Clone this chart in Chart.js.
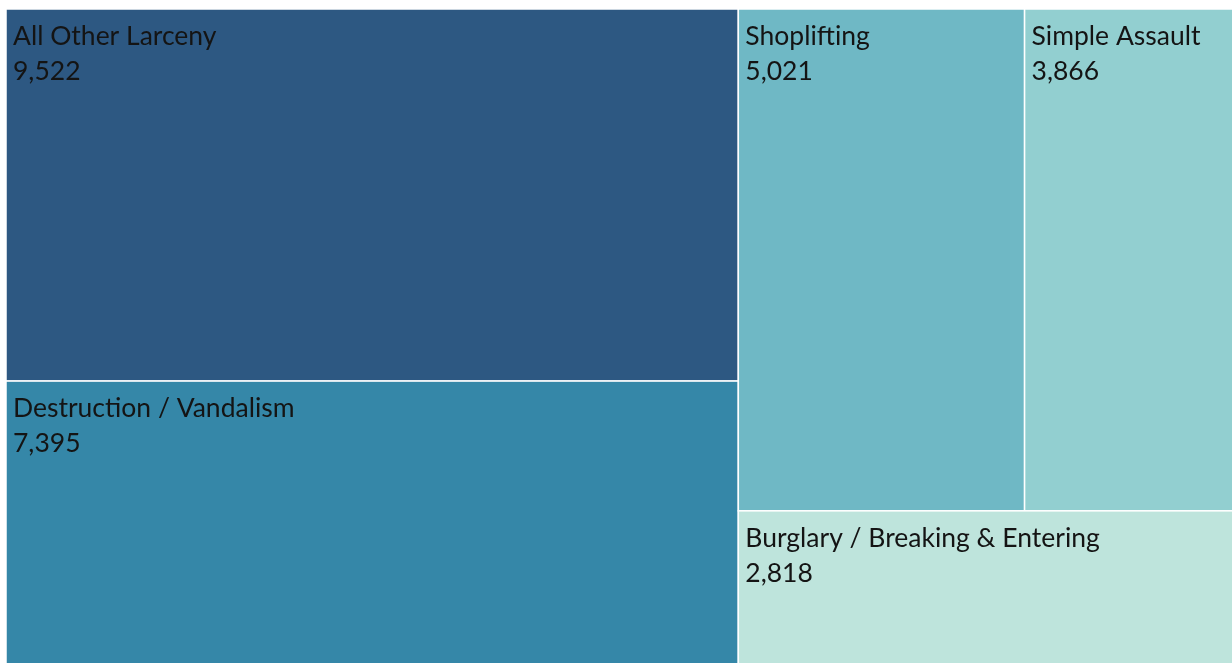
<!DOCTYPE html>
<html>
<head>
<meta charset="utf-8">
<script src="https://cdn.jsdelivr.net/npm/chart.js@4.4.1/dist/chart.umd.min.js"></script>
<style>
  html, body { margin: 0; padding: 0; background: #ffffff; overflow: hidden; }
  #wrap { position: absolute; left: 0; top: 0; width: 1250px; height: 680px; }
</style>
</head>
<body>
<div id="wrap"><canvas id="c" width="1250" height="680"></canvas></div>
<script>
// ---- data ----
const categories = [
  'All Other Larceny',
  'Destruction / Vandalism',
  'Shoplifting',
  'Simple Assault',
  'Burglary / Breaking & Entering'
];
const values = [9522, 7395, 5021, 3866, 2818];
const colors = ['#2D5882', '#3587A8', '#6FB8C5', '#92CFD0', '#BEE4DC'];
// nesting of the tiles (indices into the arrays above)
const layoutTree = { dir: 'cols', children: [
  { dir: 'rows', children: [0, 1] },
  { dir: 'rows', children: [ { dir: 'cols', children: [2, 3] }, 4 ] }
]};

function nodeSum(n) {
  return typeof n === 'number' ? values[n] : n.children.reduce((s, c) => s + nodeSum(c), 0);
}
// layout in data units (0..1 on both axes)
function layout(n, x0, y0, x1, y1, out) {
  if (typeof n === 'number') { out[n] = { x0, y0, x1, y1 }; return out; }
  const total = nodeSum(n);
  let acc = 0;
  n.children.forEach(c => {
    const f0 = acc / total; acc += nodeSum(c); const f1 = acc / total;
    if (n.dir === 'cols') layout(c, x0 + (x1 - x0) * f0, y0, x0 + (x1 - x0) * f1, y1, out);
    else layout(c, x0, y0 + (y1 - y0) * f0, x1, y0 + (y1 - y0) * f1, out);
  });
  return out;
}

const treemapPlugin = {
  id: 'treemap',
  afterDatasetsDraw(chart) {
    const ctx = chart.ctx;
    const xs = chart.scales.x, ys = chart.scales.y;
    const rects = layout(layoutTree, 0, 0, 1, 1, []);
    ctx.save();
    rects.forEach((r, i) => {
      const px0 = xs.getPixelForValue(r.x0), px1 = xs.getPixelForValue(r.x1);
      const py0 = ys.getPixelForValue(r.y0), py1 = ys.getPixelForValue(r.y1);
      const left = Math.min(px0, px1), top = Math.min(py0, py1);
      const w = Math.abs(px1 - px0), h = Math.abs(py1 - py0);
      ctx.fillStyle = colors[i];
      ctx.fillRect(left, top, w, h);
      ctx.strokeStyle = '#ffffff';
      ctx.lineWidth = 1.5;
      ctx.strokeRect(left, top, w, h);
      ctx.fillStyle = '#141414';
      ctx.font = '26.5px Lato, "Open Sans", sans-serif';
      ctx.textBaseline = 'alphabetic';
      ctx.textAlign = 'left';
      ctx.fillText(categories[i], left + 7, top + 36);
      ctx.fillText(values[i].toLocaleString('en-US'), left + 7, top + 71);
    });
    ctx.restore();
  }
};

new Chart(document.getElementById('c'), {
  type: 'scatter',
  data: { datasets: [{ data: values.map(() => ({ x: 0, y: 0 })), pointRadius: 0, pointHoverRadius: 0 }] },
  options: {
    responsive: false,
    animation: false,
    layout: { padding: { left: 6, top: 9, right: 5, bottom: 10 } },
    plugins: { legend: { display: false }, tooltip: { enabled: false } },
    scales: {
      x: { type: 'linear', min: 0, max: 1, display: false },
      y: { type: 'linear', min: 0, max: 1, reverse: true, display: false }
    }
  },
  plugins: [treemapPlugin]
});
</script>
</body>
</html>
